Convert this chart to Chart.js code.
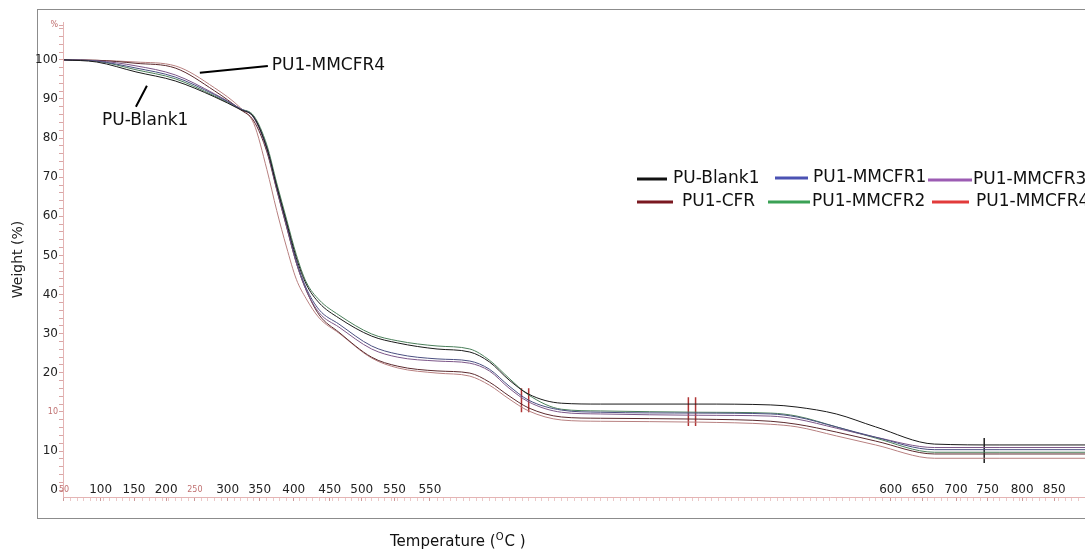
<!DOCTYPE html>
<html>
<head>
<meta charset="utf-8">
<script src="https://cdn.jsdelivr.net/npm/chart.js@4.4.1/dist/chart.umd.min.js"></script>
<style>
body { margin: 0; background: #fff; }
</style>
</head>
<body>
<canvas id="tgaChart" width="1085" height="553"></canvas>
<script>
// temperature (x) and weight % (y)
const temps = [50, 100, 160, 220, 280, 320, 340, 360, 375, 390, 405, 420, 440, 470, 520, 560, 620, 670, 700, 730, 760, 810, 870, 1020, 1130, 1170, 1230, 1290, 1380, 1480, 1610]
const blank1 = [100, 99.5, 97.2, 95.1, 91.4, 88.4, 86.7, 79.5, 70.7, 62.3, 54.0, 47.9, 43.5, 40.0, 35.8, 34.2, 32.8, 32.1, 29.8, 25.6, 22.3, 20.2, 20.0, 20.0, 19.8, 19.3, 17.7, 14.7, 10.7, 10.5, 10.5]
const mmcfr1 = [100, 99.7, 98.1, 96.0, 91.9, 88.6, 86.7, 79.5, 70.5, 61.9, 53.3, 47.0, 41.9, 38.6, 33.5, 31.6, 30.5, 30.0, 28.1, 24.2, 20.9, 18.6, 18.1, 17.9, 17.7, 17.0, 14.7, 12.3, 9.4, 9.4, 9.4]
const mmcfr3 = [100, 99.8, 98.6, 96.5, 92.1, 88.6, 86.5, 79.1, 70.0, 61.4, 52.8, 46.5, 41.2, 37.9, 32.8, 30.9, 30.0, 29.5, 27.7, 23.7, 20.5, 18.1, 17.7, 17.4, 17.2, 16.5, 14.4, 12.3, 9.9, 9.9, 9.9]
const cfr = [100, 99.9, 99.2, 98.1, 92.8, 88.4, 85.8, 78.6, 69.8, 61.2, 52.8, 46.5, 40.7, 36.7, 30.9, 28.8, 27.7, 27.2, 25.1, 21.9, 19.1, 17.0, 16.7, 16.5, 16.0, 15.3, 13.5, 11.4, 8.4, 8.4, 8.4]
const mmcfr2 = [100, 99.7, 97.7, 95.6, 91.6, 88.6, 87.0, 80.2, 71.4, 63.0, 54.7, 48.4, 44.2, 40.7, 36.3, 34.7, 33.5, 32.8, 30.2, 26.0, 22.1, 18.8, 18.4, 18.1, 17.9, 17.2, 14.7, 12.1, 8.8, 8.8, 8.8]
const mmcfr4 = [100, 99.9, 99.5, 98.6, 93.5, 88.8, 85.2, 74.5, 65.0, 56.5, 49.0, 44.5, 40.0, 36.5, 30.7, 28.4, 27.2, 26.5, 24.4, 21.2, 18.4, 16.3, 16.0, 15.8, 15.3, 14.7, 12.6, 10.5, 7.4, 7.4, 7.4]

// axis labels as printed (the x labels are not evenly spaced in the original)
const xTickValues = [50, 106, 157, 206, 250, 300, 349, 401, 456, 505, 555, 609, 1313, 1362, 1413, 1461, 1514, 1563]
const xTickLabels = ['50', '100', '150', '200', '250', '300', '350', '400', '450', '500', '550', '550', '600', '650', '700', '750', '800', '850']
const xSmallTicks = [50, 250]
const yTickLabels = ['100', '90', '80', '70', '60', '50', '40', '30', '20', '10', '10', '0']

// step markers on the curves
const markerTemps = [749, 760, 1004, 1015, 1456]
const markerTop = [23.7, 23.7, 21.6, 21.6, 12.1]
const markerBottom = [18.1, 18.1, 14.9, 14.9, 6.3]

const seriesNames = ['PU-Blank1', 'PU1-MMCFR1', 'PU1-MMCFR3', 'PU1-CFR', 'PU1-MMCFR2', 'PU1-MMCFR4']
const seriesValues = [blank1, mmcfr1, mmcfr3, cfr, mmcfr2, mmcfr4]
const lineColors = ['#1a1a1a', '#4a4f80', '#7c5688', '#5c2a2e', '#4a7f5a', '#b88080']
const legendColors = ['#111111', '#4b52b3', '#9c5cb3', '#7a1820', '#3aa155', '#e23a3a']

const font = 'DejaVu Sans'
const pink = '#e4b4b4'

let datasets = seriesValues.map((vals, i) => ({
    label: seriesNames[i],
    data: temps.map((t, j) => ({ x: t, y: vals[j] })),
    borderColor: lineColors[i],
    borderWidth: 1,
    pointRadius: 0,
    cubicInterpolationMode: 'monotone'
}))

markerTemps.forEach((t, i) => {
    datasets.push({
        label: 'marker',
        data: [{ x: t, y: markerTop[i] }, { x: t, y: markerBottom[i] }],
        borderColor: i < 4 ? '#b03535' : '#222',
        borderWidth: 1.5,
        pointRadius: 0
    })
})

const tickVal = (c) => (c && c.tick) ? c.tick.value : null

const framePlugin = {
    id: 'frame',
    beforeDraw(chart) {
        const ctx = chart.ctx
        ctx.save()
        ctx.strokeStyle = '#8c8c8c'
        ctx.lineWidth = 1
        ctx.strokeRect(37.5, 9.5, 1100, 509)
        ctx.restore()
    }
}

const extrasPlugin = {
    id: 'extras',
    afterDraw(chart) {
        const ctx = chart.ctx
        const xs = chart.scales.x
        const ys = chart.scales.y
        ctx.save()

        // x tick labels sit just above the axis line in the original
        ctx.textAlign = 'center'
        ctx.textBaseline = 'middle'
        xTickValues.forEach((v, i) => {
            const small = xSmallTicks.includes(v)
            ctx.font = (small ? 8 : 12) + 'px "' + font + '"'
            ctx.fillStyle = small ? '#c07070' : '#222'
            ctx.fillText(xTickLabels[i], xs.getPixelForValue(v), xs.top - 7)
        })
        ctx.textAlign = 'left'

        // call-out labels
        ctx.strokeStyle = '#000'
        ctx.lineWidth = 2
        ctx.beginPath()
        ctx.moveTo(xs.getPixelForValue(257.6), ys.getPixelForValue(97.0))
        ctx.lineTo(xs.getPixelForValue(361.5), ys.getPixelForValue(98.6))
        ctx.moveTo(xs.getPixelForValue(176.7), ys.getPixelForValue(94.0))
        ctx.lineTo(xs.getPixelForValue(159.9), ys.getPixelForValue(89.1))
        ctx.stroke()
        ctx.fillStyle = '#111'
        ctx.font = '17px "' + font + '"'
        ctx.fillText('PU1-MMCFR4', xs.getPixelForValue(367.6), ys.getPixelForValue(98.6))
        ctx.fillText('PU-Blank1', xs.getPixelForValue(108), ys.getPixelForValue(85.8))

        // legend
        const legendItems = [
            { x1: 637, x2: 667, tx: 673, y: 179 },
            { x1: 775, x2: 808, tx: 813, y: 178 },
            { x1: 928, x2: 972, tx: 973, y: 180 },
            { x1: 637, x2: 673, tx: 682, y: 202 },
            { x1: 768, x2: 810, tx: 812, y: 202 },
            { x1: 932, x2: 969, tx: 976, y: 202 }
        ]
        legendItems.forEach((it, i) => {
            ctx.strokeStyle = legendColors[i]
            ctx.lineWidth = 3
            ctx.beginPath()
            ctx.moveTo(it.x1, it.y)
            ctx.lineTo(it.x2, it.y)
            ctx.stroke()
            ctx.fillStyle = '#111'
            ctx.fillText(seriesNames[i], it.tx, it.y)
        })

        // x title with raised "O"
        ctx.textBaseline = 'alphabetic'
        ctx.font = '15px "' + font + '"'
        let tx = 390
        ctx.fillText('Temperature (', tx, 546)
        tx += ctx.measureText('Temperature (').width
        ctx.font = '10px "' + font + '"'
        ctx.fillText('O', tx, 540)
        tx += ctx.measureText('O').width + 1
        ctx.font = '15px "' + font + '"'
        ctx.fillText('C )', tx, 546)
        ctx.restore()
    }
}

new Chart(document.getElementById('tgaChart'), {
    type: 'line',
    data: { datasets: datasets },
    options: {
        responsive: false,
        animation: false,
        layout: { padding: { top: 22, left: 8, right: 0, bottom: 0 } },
        plugins: {
            legend: { display: false },
            tooltip: { enabled: false }
        },
        scales: {
            x: {
                type: 'linear',
                min: 48.5,
                max: 1610,
                afterBuildTicks: (scale) => {
                    let t = []
                    for (let v = 50; v <= 1600; v += 10) {
                        if (!xTickValues.some(m => Math.abs(m - v) < 4)) t.push({ value: v })
                    }
                    xTickValues.forEach(v => t.push({ value: v }))
                    t.sort((a, b) => a.value - b.value)
                    scale.ticks = t
                },
                afterFit: (scale) => { scale.height = 56 },
                border: { color: pink },
                grid: {
                    drawOnChartArea: false,
                    tickLength: 4,
                    tickColor: (c) => xTickValues.includes(tickVal(c)) ? '#cc9999' : '#ebc8c8'
                },
                ticks: {
                    display: false,
                    autoSkip: false,
                    maxRotation: 0
                }
            },
            y: {
                min: -1.6,
                max: 108.8,
                afterBuildTicks: (scale) => {
                    let t = []
                    for (let k = 0; k <= 59; k++) t.push({ value: k * 100 / 55 })
                    t.push({ value: 108.1 })
                    scale.ticks = t
                },
                afterFit: (scale) => { scale.width = 55 },
                border: { color: pink },
                title: {
                    display: true,
                    text: 'Weight (%)',
                    color: '#222',
                    font: { family: font, size: 14 },
                    padding: { top: 2, bottom: 0 }
                },
                grid: {
                    drawOnChartArea: false,
                    tickLength: 4,
                    tickColor: '#d9a6a6'
                },
                ticks: {
                    autoSkip: false,
                    padding: 1,
                    callback: (value, index) => {
                        if (index === 60) return '%'
                        if (index % 5 !== 0) return ''
                        return yTickLabels[11 - index / 5]
                    },
                    color: (c) => (c && (c.index === 60 || c.index === 10)) ? '#c07070' : '#222',
                    font: (c) => ({ family: font, size: (c && (c.index === 60 || c.index === 10)) ? 8 : 12 })
                }
            }
        }
    },
    plugins: [framePlugin, extrasPlugin]
})
</script>
</body>
</html>
